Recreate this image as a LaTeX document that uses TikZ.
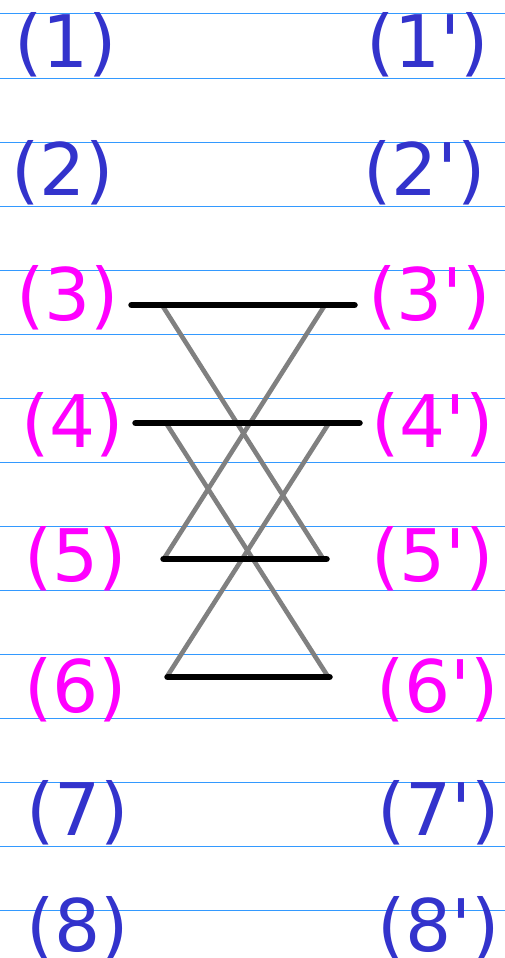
\documentclass[tikz,border=0pt]{standalone}
\usepackage{fontspec}
\setmainfont{DejaVu Sans}[Ligatures=TeXOff]
\definecolor{lblblue}{HTML}{3333CC}
\definecolor{lblmag}{HTML}{FF00FF}
\definecolor{ruleblue}{HTML}{3399FF}
\definecolor{midgray}{HTML}{808080}
\tikzset{
  lbl/.style={anchor=base west, inner sep=0pt, font=\fontsize{72.5}{80}\selectfont},
  bl/.style={lbl, text=lblblue},
  mg/.style={lbl, text=lblmag},
  rule/.style={draw=ruleblue, line width=1pt},
  bar/.style={draw=black, line width=6.5pt, line cap=round},
  rung/.style={draw=midgray, line width=4.6pt, line cap=round},
}
\begin{document}
\begin{tikzpicture}[x=1pt,y=-1pt]
\useasboundingbox (0,0) rectangle (505,958);
\fill[white] (0,0) rectangle (505,958);
% ruled lines
\foreach \yy in {14,78,142,206,270,334,398,462,526,590,654,718,782,846,910}
  \draw[rule] (0,\yy) -- (505,\yy);
% labels
\node[bl] (l1) at (14,67) {(1)};
\node[bl] (r1) at (366,67) {(1')};
\node[bl] (l2) at (11,195) {(2)};
\node[bl] (r2) at (363,195) {(2')};
\node[mg] (l3) at (16,320) {(3)};
\node[mg] (r3) at (368,320) {(3')};
\node[mg] (l4) at (21,447) {(4)};
\node[mg] (r4) at (371,447) {(4')};
\node[mg] (l5) at (24,581) {(5)};
\node[mg] (r5) at (371,581) {(5')};
\node[mg] (l6) at (24,712) {(6)};
\node[mg] (r6) at (376,712) {(6')};
\node[bl] (l7) at (26,835) {(7)};
\node[bl] (r7) at (377,835) {(7')};
\node[bl] (l8) at (26,951) {(8)};
\node[bl] (r8) at (377,951) {(8')};
% endpoints
\coordinate (a1) at (131.5,305);  \coordinate (b1) at (354.5,305);
\coordinate (a2) at (135.5,423);  \coordinate (b2) at (359.5,423);
\coordinate (a3) at (163.5,559);  \coordinate (b3) at (326.5,559);
\coordinate (a4) at (167.5,677);  \coordinate (b4) at (329.5,677);
\coordinate (p1) at (162,305);    \coordinate (q1) at (325,305);
\coordinate (p2) at (166,423);    \coordinate (q2) at (329,423);
\coordinate (p3) at (165,557);    \coordinate (q3) at (322,557);
\coordinate (p4) at (168,675);    \coordinate (q4) at (327,675);
% gray crossing lines
\draw[rung] (p1) -- (q3);
\draw[rung] (q1) -- (p3);
\draw[rung] (p2) -- (q4);
\draw[rung] (q2) -- (p4);
% black bars
\draw[bar] (a1) -- (b1);
\draw[bar] (a2) -- (b2);
\draw[bar] (a3) -- (b3);
\draw[bar] (a4) -- (b4);
\end{tikzpicture}
\end{document}
